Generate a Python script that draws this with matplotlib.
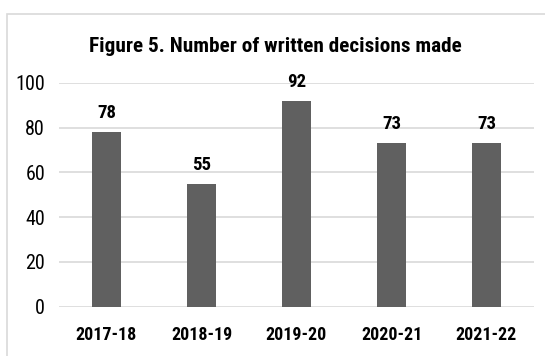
import matplotlib.pyplot as plt
from matplotlib.patches import Rectangle

# 書面決定の件数
years = ["2017-18", "2018-19", "2019-20", "2020-21", "2021-22"]
decisions = [78, 55, 92, 73, 73]
y_ticks = [0, 20, 40, 60, 80, 100]

narrow = ["Roboto Condensed", "DejaVu Sans"]
W, H = 545, 356


def main():
    plt.rcParams["font.family"] = narrow
    fig = plt.figure(figsize=(W / 100, H / 100), dpi=100)

    # グラフ枠（右と下ははみ出す）
    fig.patches.append(Rectangle((7 / W, -0.1), 1.2, 1 - 14 / H + 0.1,
                                 transform=fig.transFigure, fill=False,
                                 edgecolor="#d9d9d9", linewidth=1.2))

    ax = fig.add_axes([59 / W, 1 - 306.5 / H, 475 / W, 223.5 / H])
    x = range(len(years))
    bars = ax.bar(x, decisions, width=0.315, color="#606060", zorder=3)

    for b, v in zip(bars, decisions):
        ax.annotate(str(v), (b.get_x() + b.get_width() / 2, v),
                    xytext=(0, 10), textcoords="offset points",
                    ha="center", va="baseline", fontsize=13.5,
                    fontweight="bold")

    ax.set_ylim(0, 100)
    ax.set_xlim(-0.5, len(years) - 0.5)
    ax.set_yticks(y_ticks)
    ax.set_yticklabels([str(t) for t in y_ticks], fontsize=14.5)
    ax.set_xticks(list(x))
    ax.set_xticklabels(years, fontsize=13, fontweight="bold")
    ax.tick_params(length=0)
    ax.tick_params(axis="y", pad=10)
    ax.tick_params(axis="x", pad=14)
    ax.grid(axis="y", color="#d9d9d9", linewidth=1.2, zorder=0)
    for s in ax.spines.values():
        s.set_visible(False)

    fig.text(275 / W, 1 - 52 / H, "Figure 5. Number of written decisions made",
             ha="center", va="baseline", fontsize=15.3, fontweight="bold")

    fig.savefig("out.png", dpi=100)


if __name__ == "__main__":
    main()
